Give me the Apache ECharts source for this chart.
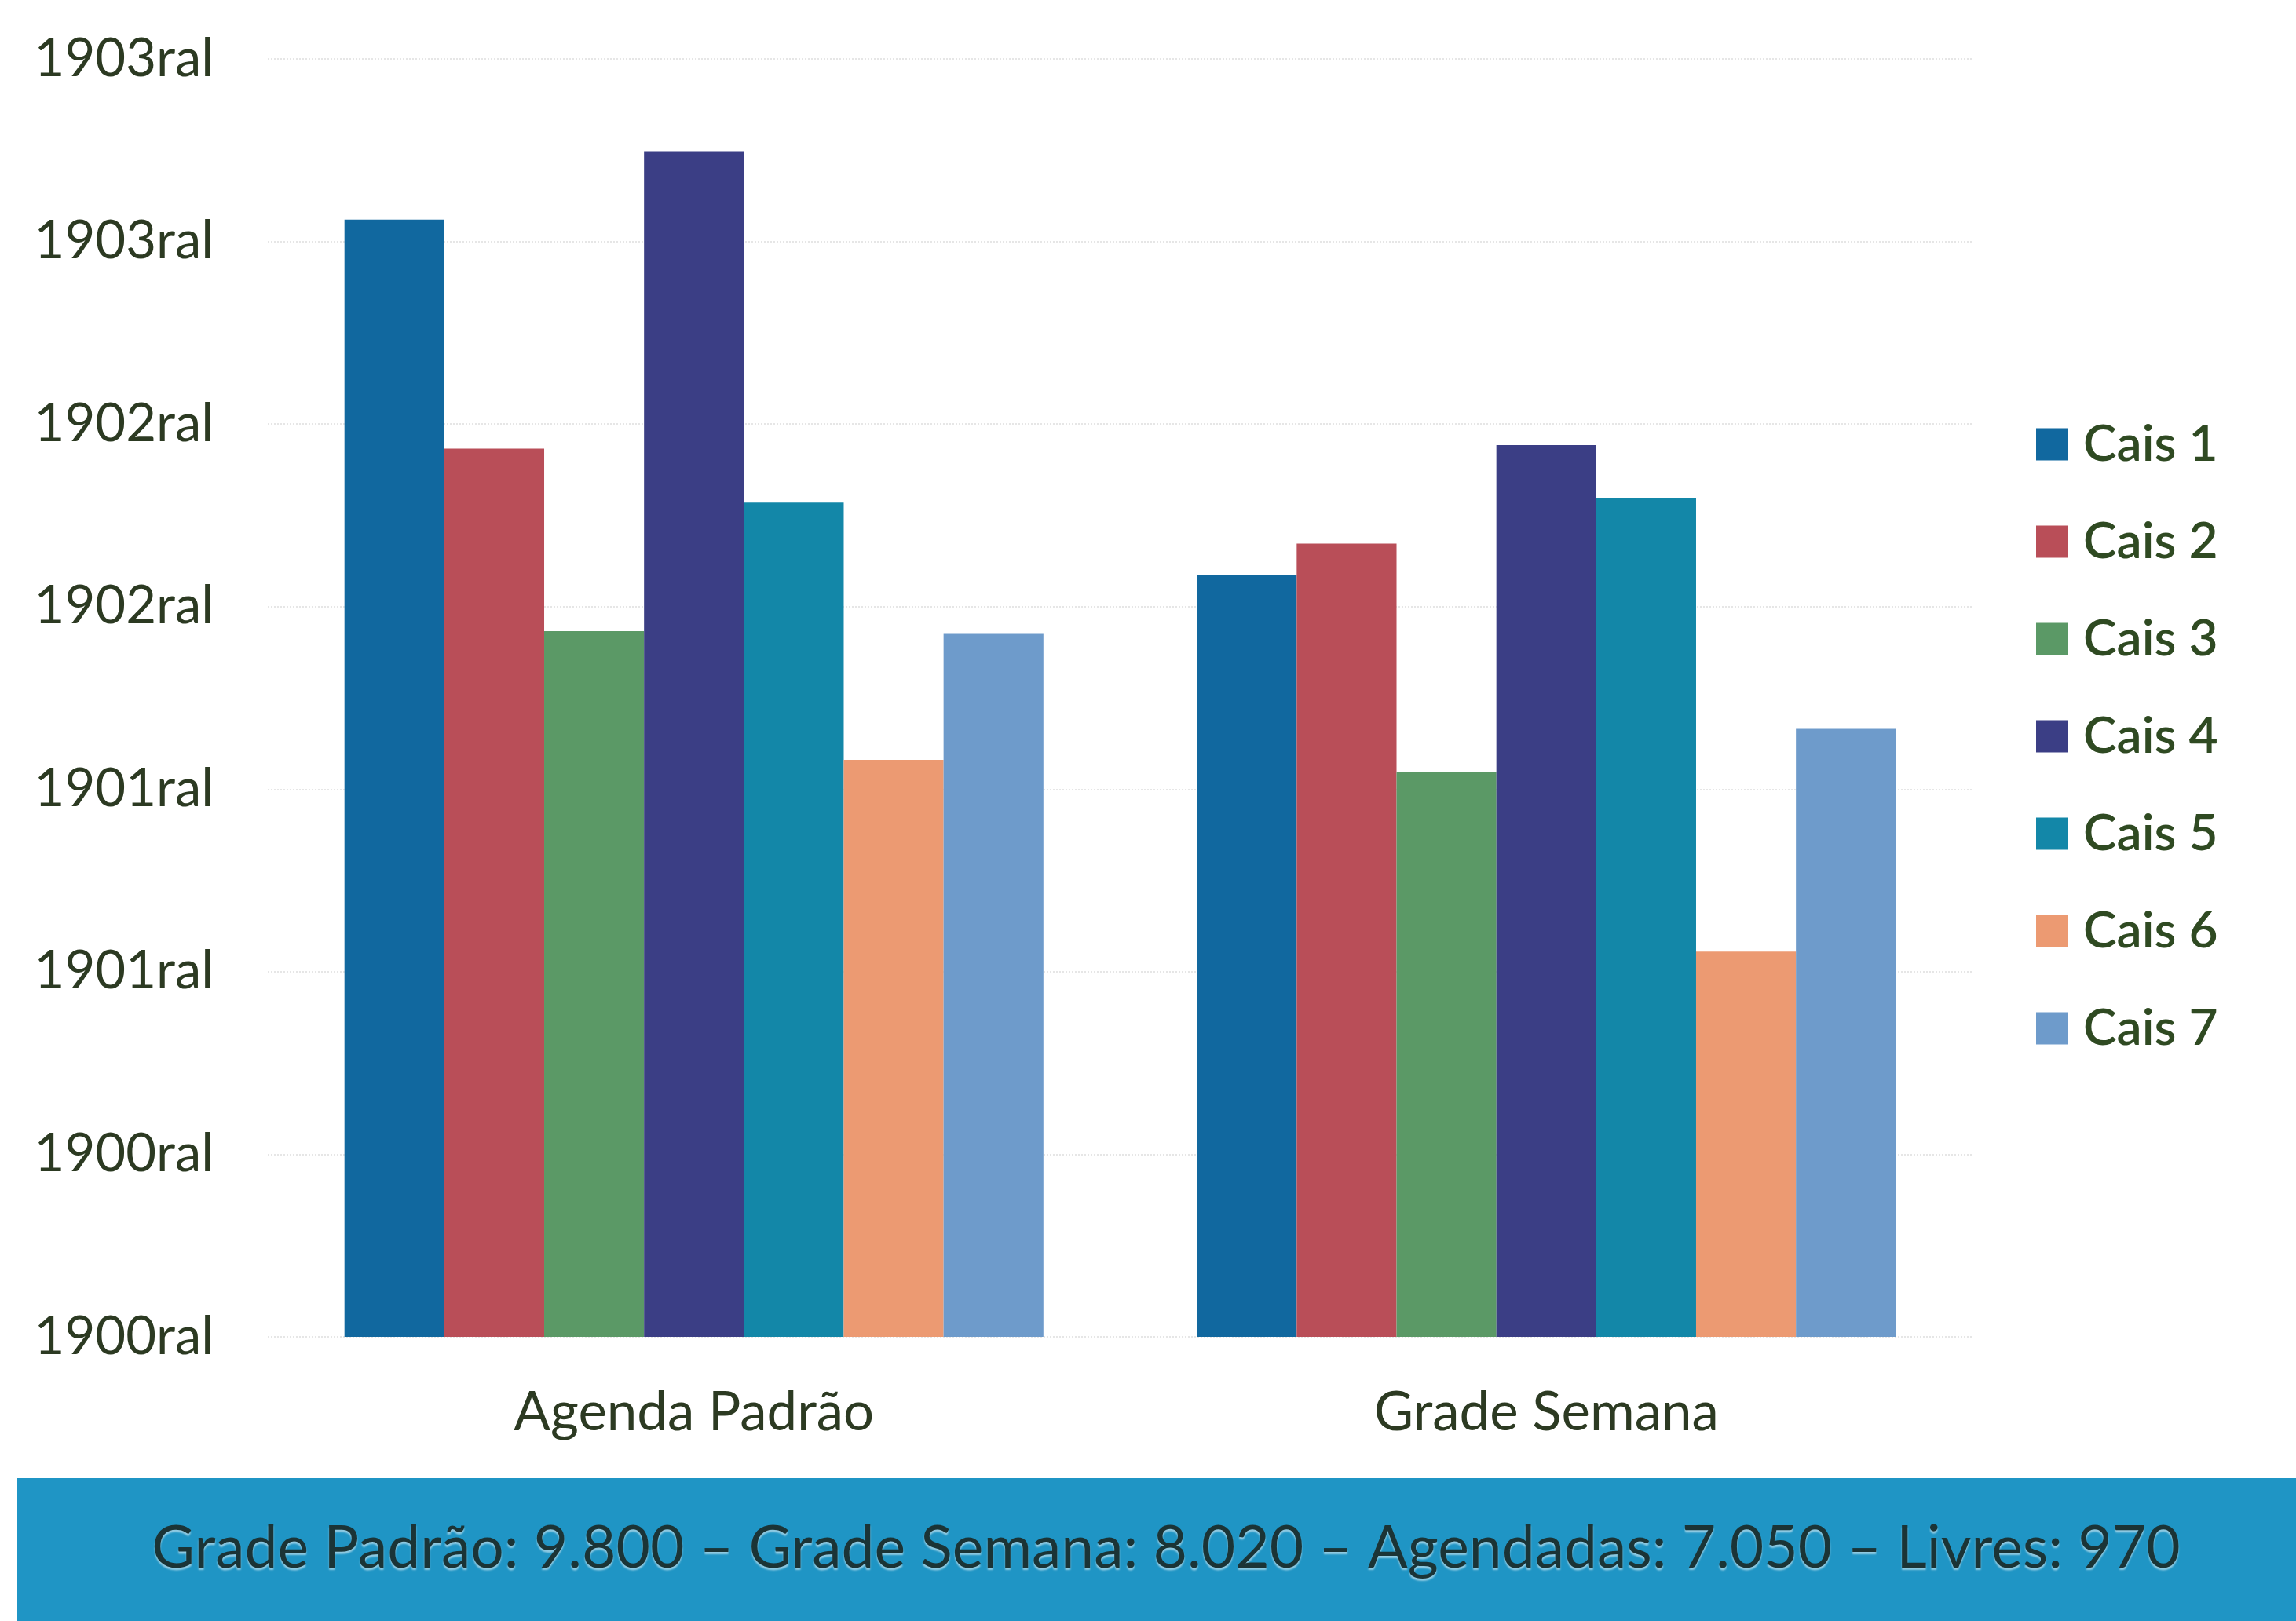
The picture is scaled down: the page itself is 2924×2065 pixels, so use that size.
<!DOCTYPE html>
<html>
<head>
<meta charset="utf-8">
<script src="https://cdn.jsdelivr.net/npm/echarts@6/dist/echarts.min.js"></script>
<style>
  html, body { margin: 0; padding: 0; background: #fff; }
  #chart { width: 2924px; height: 2065px; }
</style>
</head>
<body>
<div id="chart"></div>
<script>
const categories = ["Agenda Padrão", "Grade Semana"];
const seriesNames = ["Cais 1", "Cais 2", "Cais 3", "Cais 4", "Cais 5", "Cais 6", "Cais 7"];
const cais1 = [1224, 835];
const cais2 = [973, 869];
const cais3 = [773, 619];
const cais4 = [1299, 977];
const cais5 = [914, 919];
const cais6 = [632, 422];
const cais7 = [770, 666];
const yLabels = ["1900ral", "1900ral", "1901ral", "1901ral", "1902ral", "1902ral", "1903ral", "1903ral"];
const footerText = "Grade Padrão: 9.800 – Grade Semana: 8.020 – Agendadas: 7.050 – Livres: 970";

const colors = ["#11689f", "#b94e58", "#5b9966", "#3b3e85", "#1387a8", "#ec9a72", "#6e9bcb"];
const values = [cais1, cais2, cais3, cais4, cais5, cais6, cais7];
const textColor = "#2c3a22";
const font = "Lato";

const chart = echarts.init(document.getElementById("chart"), null, { renderer: "canvas" });

chart.setOption({
  backgroundColor: "#ffffff",
  animation: false,
  color: colors,
  grid: { left: 341, right: 412, top: 75, bottom: 362 },
  legend: {
    orient: "vertical",
    left: 2588,
    top: 529,
    icon: "rect",
    itemWidth: 41,
    itemHeight: 41,
    itemGap: 60,
    data: seriesNames,
    textStyle: {
      fontFamily: font,
      fontSize: 64,
      lineHeight: 64,
      fontWeight: 600,
      color: "#2f4a22",
      padding: [0, 0, 0, 14]
    }
  },
  xAxis: {
    type: "category",
    data: categories,
    axisLine: { show: false },
    axisTick: { show: false },
    axisLabel: {
      fontFamily: font,
      fontSize: 69,
      color: textColor,
      margin: 62
    }
  },
  yAxis: {
    type: "value",
    min: 0,
    max: 1400,
    interval: 200,
    axisLine: { show: false },
    axisTick: { show: false },
    splitLine: { lineStyle: { color: "#e6e6e6", width: 2, type: "dotted" } },
    axisLabel: {
      fontFamily: font,
      fontSize: 67,
      color: textColor,
      margin: 69,
      formatter: function (v) { return yLabels[Math.round(v / 200)]; }
    }
  },
  series: seriesNames.map(function (name, i) {
    return {
      name: name,
      type: "bar",
      data: values[i],
      barGap: "0%",
      barCategoryGap: "18%",
      itemStyle: { color: colors[i] }
    };
  }),
  graphic: [
    {
      type: "rect",
      left: 22,
      top: 1883,
      shape: { width: 2902, height: 182 },
      style: { fill: "#1f95c5" },
      z: 10
    },
    {
      type: "text",
      x: 1485,
      y: 1973,
      style: {
        text: footerText,
        textAlign: "center",
        textVerticalAlign: "middle",
        fontFamily: font,
        fontSize: 75,
        fill: "#1b3436",
        textShadowColor: "rgba(255,255,255,0.5)",
        textShadowOffsetY: 3,
        textShadowBlur: 2
      },
      z: 11
    }
  ]
});
</script>
</body>
</html>
